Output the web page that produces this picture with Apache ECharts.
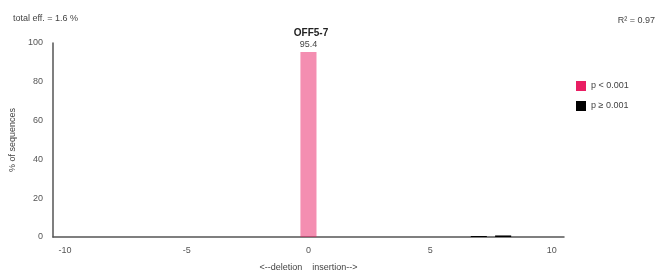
<!DOCTYPE html>
<html><head><meta charset="utf-8">
<script src="https://cdn.jsdelivr.net/npm/echarts@6/dist/echarts.min.js"></script>
<style>html,body{margin:0;padding:0;background:#fff}#c{width:669px;height:278px}</style>
</head><body><div id="c"></div>
<script>
const categories = ['-10','-9','-8','-7','-6','-5','-4','-3','-2','-1','0','1','2','3','4','5','6','7','8','9','10'];
const sigValues =    [0,0,0,0,0,0,0,0,0,0,95.4,0,0,0,0,0,0,0,0,0,0];
const nonsigValues = [0,0,0,0,0,0,0,0,0,0,0,0,0,0,0,0,0,0.5,0.8,0,0];
const yTicks = [0,20,40,60,80,100];
const titleText = 'OFF5-7';
const effText = 'total eff. = 1.6 %';
const r2Text = 'R² = 0.97';

const chart = echarts.init(document.getElementById('c'));
const font = 'Arial, "Liberation Sans", sans-serif';
chart.setOption({
  animation: false,
  textStyle: {fontFamily: font},
  title: [
    {text: titleText, left: 306, top: 23, textAlign: 'center', textStyle: {fontSize: 10, fontWeight: 'bold', color: '#222', fontFamily: font}},
    {text: effText, left: 8, top: 9, textStyle: {fontSize: 9, fontWeight: 'normal', color: '#444', fontFamily: font}},
    {text: r2Text, right: 9, top: 11, textStyle: {fontSize: 9, fontWeight: 'normal', color: '#444', fontFamily: font}}
  ],
  legend: {
    orient: 'vertical', left: 571, top: 76, itemWidth: 10, itemHeight: 10, itemGap: 10,
    textStyle: {fontSize: 9, color: '#444', fontFamily: font},
    data: [
      {name: 'p < 0.001', icon: 'rect', itemStyle: {color: '#e91e63', opacity: 1}},
      {name: 'p ≥ 0.001', icon: 'rect', itemStyle: {color: '#000'}}
    ]
  },
  grid: {left: 48, right: 105, top: 43, bottom: 41},
  xAxis: {
    type: 'category', data: categories, boundaryGap: true,
    name: '<--deletion    insertion-->', nameLocation: 'middle', nameGap: 26,
    nameTextStyle: {fontSize: 9, color: '#444', fontFamily: font},
    axisLine: {lineStyle: {color: '#555', width: 1.5}},
    axisTick: {show: false},
    axisLabel: {interval: 4, fontSize: 9, color: '#555', margin: 9},
    splitLine: {show: false}
  },
  yAxis: {
    type: 'value', min: yTicks[0], max: yTicks[yTicks.length-1], interval: 20,
    name: '% of sequences', nameLocation: 'middle', nameGap: 31,
    nameTextStyle: {fontSize: 9, color: '#444', fontFamily: font},
    axisLine: {show: true, lineStyle: {color: '#555', width: 1.5}},
    axisTick: {show: false},
    axisLabel: {fontSize: 9, color: '#555', margin: 10},
    splitLine: {show: false}
  },
  series: [
    {name: 'p < 0.001', type: 'bar', data: sigValues, barWidth: '66%', barGap: '-100%',
     itemStyle: {color: 'rgba(233,30,99,0.5)'},
     label: {show: true, position: 'top', distance: 3, fontSize: 9, color: '#444',
       formatter: p => p.value > 0 ? p.value.toFixed(1) : ''}},
    {name: 'p ≥ 0.001', type: 'bar', data: nonsigValues, barWidth: '66%',
     itemStyle: {color: '#000'}}
  ]
});
</script></body></html>
